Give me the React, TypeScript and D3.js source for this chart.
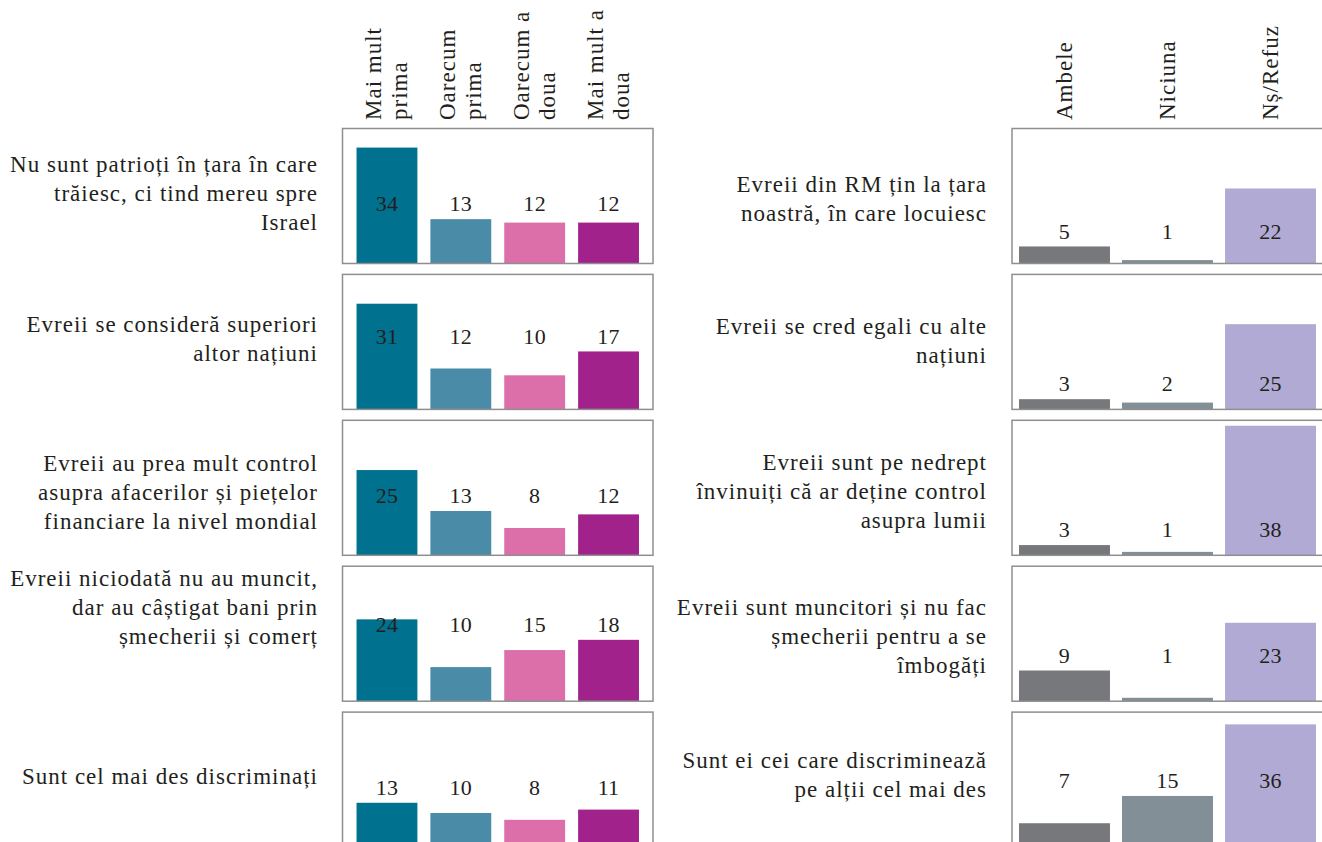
import React from "react";
import * as d3 from "d3";

// ---------- data ----------
const leftCategories = ["Mai mult prima", "Oarecum prima", "Oarecum a doua", "Mai mult a doua"];
const leftHeaderLines = [["Mai mult", "prima"], ["Oarecum", "prima"], ["Oarecum a", "doua"], ["Mai mult a", "doua"]];
const rightCategories = ["Ambele", "Niciuna", "Nș/Refuz"];
const rightHeaderLines = [["Ambele"], ["Niciuna"], ["Nș/Refuz"]];

const leftStatements = [
  ["Nu sunt patrioți în țara în care", "trăiesc, ci tind mereu spre", "Israel"],
  ["Evreii se consideră superiori", "altor națiuni"],
  ["Evreii au prea mult control", "asupra afacerilor și piețelor", "financiare la nivel mondial"],
  ["Evreii niciodată nu au muncit,", "dar au câștigat bani prin", "șmecherii și comerț"],
  ["Sunt cel mai des discriminați"],
];
const rightStatements = [
  ["Evreii din RM țin la țara", "noastră, în care locuiesc"],
  ["Evreii se cred egali cu alte", "națiuni"],
  ["Evreii sunt pe nedrept", "învinuiți că ar deține control", "asupra lumii"],
  ["Evreii sunt muncitori și nu fac", "șmecherii pentru a se", "îmbogăți"],
  ["Sunt ei cei care discriminează", "pe alții cel mai des"],
];

const maiMultPrima = [34, 31, 25, 24, 13];
const oarecumPrima = [13, 12, 13, 10, 10];
const oarecumADoua = [12, 10, 8, 15, 8];
const maiMultADoua = [12, 17, 12, 18, 11];

const ambele = [5, 3, 3, 9, 7];
const niciuna = [1, 2, 1, 1, 15];
const nsRefuz = [22, 25, 38, 23, 36];

const leftColors = ["#00718f", "#4a8ca8", "#dc6fa9", "#a1228b"];
const rightColors = ["#77787c", "#828f96", "#b1aad4"];

// ---------- layout ----------
const W = 1322;
const H = 842;
const FONT = "Liberation Serif, Tinos, DejaVu Serif, Noto Serif, Times New Roman, serif";
const TEXT = "#231f20";
const panelTop0 = 128.5;
const panelPitch = 145.9;
const panelH = 135;
const lineH = 29;
// small vertical nudges of the statement text blocks (px)
const leftLabelNudge = [5, 5, 12, -19, 4];
const rightLabelNudge = [10, 7, 11, 10, 3];

const leftSeries = [maiMultPrima, oarecumPrima, oarecumADoua, maiMultADoua];
const rightSeries = [ambele, niciuna, nsRefuz];

const allValues = [...leftSeries.flat(), ...rightSeries.flat()];
const yMax = (d3.max(allValues) as number) * 1.042;
const y = d3.scaleLinear().domain([0, yMax]).range([panelH, 0]);

const xLeft = d3.scaleBand<string>().domain(leftCategories).range([342.5, 653]).paddingInner(0.176).paddingOuter(0.19);
const xRight = d3.scaleBand<string>().domain(rightCategories).range([1012, 1323]).paddingInner(0.117).paddingOuter(0.068);

function labelLevel(vals: number[], floor: number): number {
  const sorted = [...vals].sort((a, b) => b - a);
  return Math.max(sorted[1] + 4.5, floor);
}

type GroupProps = {
  series: number[][];
  cats: string[];
  headers: string[][];
  statements: string[][];
  colors: string[];
  x: d3.ScaleBand<string>;
  labelRight: number;
  nudges: number[];
  floor: number;
};

function Group({ series, cats, headers, statements, colors, x, labelRight, nudges, floor }: GroupProps) {
  const [r0, r1] = x.range();
  const bw = x.bandwidth();
  return (
    <g>
      {headers.map((lines, ci) => {
        const cx = (x(cats[ci]) as number) + bw / 2;
        return (
          <text
            key={"h" + ci}
            transform={`translate(${cx},120) rotate(-90)`}
            style={{ fontFamily: FONT }}
            fontSize={23}
            letterSpacing={1}
            fill={TEXT}
            textAnchor="start"
          >
            {lines.map((ln, li) => (
              <tspan key={li} x={0} y={(li - (lines.length - 1) / 2) * 26 + 7.5}>
                {ln}
              </tspan>
            ))}
          </text>
        );
      })}
      {statements.map((lines, ri) => {
        const top = panelTop0 + ri * panelPitch;
        const vals = series.map((s) => s[ri]);
        const level = labelLevel(vals, floor);
        const mid = top + panelH / 2 + nudges[ri];
        return (
          <g key={"r" + ri}>
            <text style={{ fontFamily: FONT }} fontSize={23} letterSpacing={1} fill={TEXT} textAnchor="end">
              {lines.map((ln, li) => (
                <tspan key={li} x={labelRight} y={mid + (li - (lines.length - 1) / 2) * lineH}>
                  {ln}
                </tspan>
              ))}
            </text>
            <g transform={`translate(0,${top})`}>
              {vals.map((v, ci) => (
                <rect
                  key={"b" + ci}
                  x={x(cats[ci]) as number}
                  y={y(v)}
                  width={bw}
                  height={panelH - y(v)}
                  fill={colors[ci]}
                />
              ))}
              <rect x={r0} y={0} width={r1 - r0} height={panelH} fill="none" stroke="#8f8f8f" strokeWidth={1.5} />
              {vals.map((v, ci) => (
                <text
                  key={"v" + ci}
                  x={(x(cats[ci]) as number) + bw / 2}
                  y={y(level) + 7.5}
                  textAnchor="middle"
                  style={{ fontFamily: FONT }}
                  fontSize={22}
                  letterSpacing={0.3}
                  fill={TEXT}
                >
                  {v}
                </text>
              ))}
            </g>
          </g>
        );
      })}
    </g>
  );
}

export default function App() {
  return (
    <svg
      width={W}
      height={H}
      viewBox={`0 0 ${W} ${H}`}
      style={{ position: "absolute", left: 0, top: 0, background: "#ffffff" }}
    >
      <rect x={0} y={0} width={W} height={H} fill="#ffffff" />
      <Group
        series={leftSeries}
        cats={leftCategories}
        headers={leftHeaderLines}
        statements={leftStatements}
        colors={leftColors}
        x={xLeft}
        labelRight={318}
        nudges={leftLabelNudge}
        floor={17.5}
      />
      <Group
        series={rightSeries}
        cats={rightCategories}
        headers={rightHeaderLines}
        statements={rightStatements}
        colors={rightColors}
        x={xRight}
        labelRight={987}
        nudges={rightLabelNudge}
        floor={0}
      />
    </svg>
  );
}
